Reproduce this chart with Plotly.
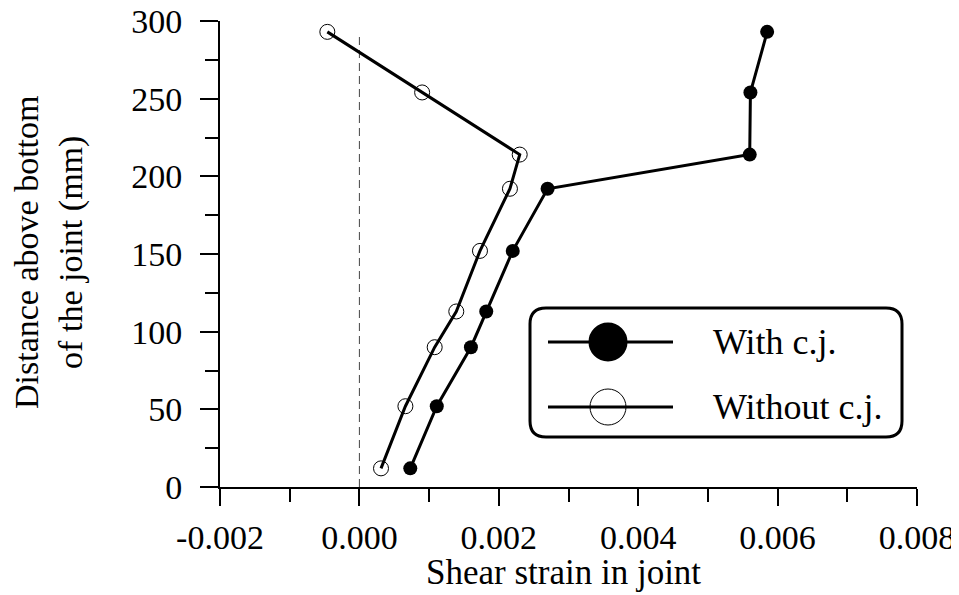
import plotly.graph_objects as go

# Data
heights_mm = [12, 52, 90, 113, 152, 192, 214, 254, 293]
strain_with_cj = [0.00073, 0.00111, 0.00160, 0.00182, 0.00220, 0.00270, 0.00560, 0.00561, 0.00585]
strain_without_cj = [0.00031, 0.00066, 0.00108, 0.00139, 0.00173, 0.00216, 0.00230, 0.00090, -0.00046]
series_names = ["With c.j.", "Without c.j."]
x_ticks = [-0.002, 0.000, 0.002, 0.004, 0.006, 0.008]
x_tick_labels = ["-0.002", "0.000", "0.002", "0.004", "0.006", "0.008"]
y_ticks = [0, 50, 100, 150, 200, 250, 300]
x_title = "Shear strain in joint"
y_title = "Distance above bottom<br>of the joint (mm)"

FONT = "Liberation Serif, Times New Roman, serif"
OFF = 8  # page body margin in the browser
W, H = 959 - OFF, 595 - OFF
# plot area on screen: x 220..917, y 21..487
L, R, T = 220 - OFF, 959 - 917, 21 - OFF
B = H - T - (487 - 21)
PW, PH = W - L - R, H - T - B

def px(xs):
    """screen x pixel -> paper coordinate"""
    return (xs - OFF - L) / PW

def py(ys):
    """screen y pixel -> paper coordinate"""
    return (H - B - (ys - OFF)) / PH

fig = go.Figure()

fig.add_trace(go.Scatter(
    x=strain_with_cj, y=heights_mm, mode="lines+markers", name=series_names[0],
    line=dict(color="black", width=3),
    marker=dict(symbol="circle", size=14, color="black"),
    showlegend=False,
))
fig.add_trace(go.Scatter(
    x=strain_without_cj, y=heights_mm, mode="lines+markers", name=series_names[1],
    line=dict(color="black", width=3),
    marker=dict(symbol="circle-open", size=15, color="black", line=dict(width=1)),
    showlegend=False,
))

shapes = []
# dashed zero reference line
shapes.append(dict(type="line", xref="x", yref="y", x0=0, x1=0, y0=0, y1=292,
                   line=dict(color="#444", width=1, dash="8px,5px"), layer="below"))

# rounded legend box
bx0, bx1, by0, by1 = px(530), px(902), py(437), py(308)
rx, ry = 16 / PW, 16 / PH
path = (f"M {bx0+rx},{by1} L {bx1-rx},{by1} Q {bx1},{by1} {bx1},{by1-ry} "
        f"L {bx1},{by0+ry} Q {bx1},{by0} {bx1-rx},{by0} "
        f"L {bx0+rx},{by0} Q {bx0},{by0} {bx0},{by0+ry} "
        f"L {bx0},{by1-ry} Q {bx0},{by1} {bx0+rx},{by1} Z")
shapes.append(dict(type="path", xref="paper", yref="paper", path=path,
                   line=dict(color="black", width=3), fillcolor="white", layer="above"))

rows = [py(342), py(407)]
for i, ry_ in enumerate(rows):
    shapes.append(dict(type="line", xref="paper", yref="paper", x0=px(548), x1=px(673),
                       y0=ry_, y1=ry_, line=dict(color="black", width=3)))
    shapes.append(dict(type="circle", xref="paper", yref="paper",
                       xsizemode="pixel", ysizemode="pixel",
                       xanchor=px(608), yanchor=ry_, x0=-18, x1=18, y0=-18, y1=18,
                       fillcolor="black" if i == 0 else "rgba(0,0,0,0)",
                       line=dict(color="black", width=3 if i == 0 else 1)))

annotations = []
for i, ry_ in enumerate(rows):
    annotations.append(dict(xref="paper", yref="paper", x=px(711), y=ry_, text=series_names[i],
                            showarrow=False, xanchor="left", yanchor="middle",
                            font=dict(family=FONT, size=36, color="black")))
# axis titles
annotations.append(dict(xref="paper", yref="paper", x=px(563), y=py(594), text=x_title,
                        showarrow=False, xanchor="center", yanchor="bottom",
                        font=dict(family=FONT, size=35, color="black")))
annotations.append(dict(xref="paper", yref="paper", x=px(49), y=py(253), text=y_title,
                        showarrow=False, xanchor="center", yanchor="middle", textangle=-90,
                        font=dict(family=FONT, size=34, color="black")))

fig.update_layout(
    width=W, height=H,
    margin=dict(l=L, r=R, t=T, b=B, autoexpand=False),
    paper_bgcolor="white", plot_bgcolor="white",
    font=dict(family=FONT, color="black"),
    shapes=shapes, annotations=annotations,
)

fig.update_xaxes(
    range=[-0.002, 0.008], tickvals=x_ticks, ticktext=x_tick_labels, automargin=False,
    showgrid=False, zeroline=False, showline=True, linecolor="black", linewidth=2,
    ticks="outside", ticklen=17, tickwidth=2, tickcolor="black",
    minor=dict(dtick=0.001, ticks="outside", ticklen=13, tickwidth=2, tickcolor="black", showgrid=False),
    tickfont=dict(family=FONT, size=34, color="black"),
    ticklabelstandoff=2, ticklabeloverflow="allow",
)
fig.update_yaxes(
    range=[0, 300], tickvals=y_ticks, automargin=False,
    showgrid=False, zeroline=False, showline=True, linecolor="black", linewidth=2,
    ticks="outside", ticklen=18, tickwidth=2, tickcolor="black",
    minor=dict(dtick=25, ticks="outside", ticklen=13, tickwidth=2, tickcolor="black", showgrid=False),
    tickfont=dict(family=FONT, size=34, color="black"),
    ticklabelstandoff=11, ticklabeloverflow="allow",
)

fig.write_html("out.html")
